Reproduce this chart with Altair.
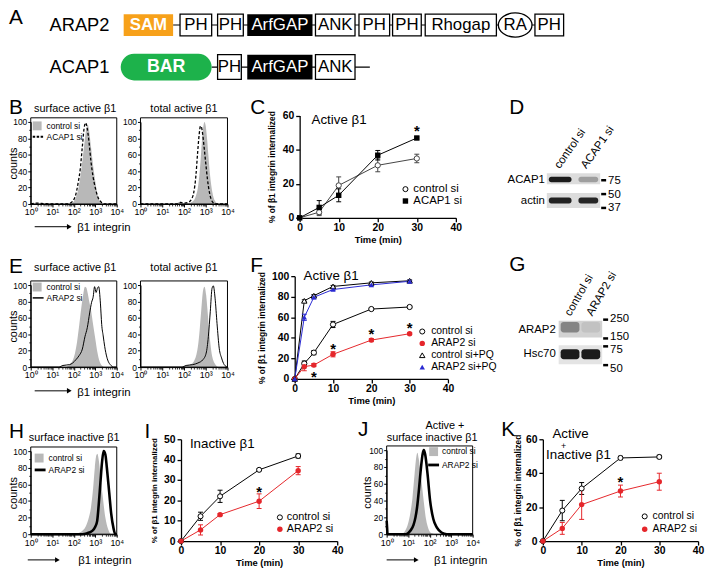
import altair as alt
import pandas as pd

W, H = 705, 562
FONT = "Liberation Sans"
RED = "#e5262b"
BLUE = "#2a2ad2"
GRAY = "#b8b8b8"
ORANGE = "#f7a11a"
GREEN = "#1db24b"


def P(v):
    return v - 8


# ============================ DATA ============================
# A: domain architecture
ARAP2_DOMAINS = ["SAM", "PH", "PH", "ArfGAP", "ANK", "PH", "PH", "Rhogap", "RA", "PH"]
ACAP1_DOMAINS = ["BAR", "PH", "ArfGAP", "ANK"]

# flow cytometry histograms: log10(intensity) and counts
B_SURF_CTRL_LX = [0, 1.85, 2.0, 2.1, 2.2, 2.3, 2.4, 2.5, 2.55, 2.6, 2.65, 2.7, 2.8, 2.9, 3.0, 3.1, 3.2, 3.35, 4]
B_SURF_CTRL_Y = [0, 0, 3, 8, 17, 32, 52, 75, 86, 94, 97, 92, 70, 47, 28, 12, 4, 0, 0]
B_SURF_ACAP_LX = [0, 0.3, 0.6, 1.0, 1.7, 1.9, 2.0, 2.1, 2.2, 2.3, 2.4, 2.48, 2.55, 2.62, 2.7, 2.8, 2.9, 3.0, 3.1, 3.25, 3.4, 4]
B_SURF_ACAP_Y = [0, 1, 0.5, 0, 0, 2, 5, 12, 25, 42, 70, 92, 99, 93, 78, 52, 33, 20, 10, 3, 0, 0]
B_TOT_CTRL_LX = [0, 1.6, 1.75, 1.85, 1.95, 2.2, 2.4, 2.55, 2.65, 2.75, 2.82, 2.88, 2.94, 3.0, 3.06, 3.12, 3.2, 3.3, 3.42, 3.6, 4]
B_TOT_CTRL_Y = [0, 0, 2, 3, 1, 1, 3, 10, 22, 48, 75, 92, 100, 95, 80, 60, 35, 15, 4, 0, 0]
B_TOT_ACAP_LX = [0, 1.7, 1.85, 2.0, 2.2, 2.35, 2.45, 2.55, 2.62, 2.7, 2.76, 2.8, 2.86, 2.93, 3.0, 3.08, 3.17, 3.3, 3.45, 4]
B_TOT_ACAP_Y = [0, 0, 2, 1, 2, 6, 14, 35, 60, 85, 95, 94, 85, 68, 50, 30, 14, 3, 0, 0]

E_SURF_CTRL_LX = [0, 1.6, 1.8, 1.95, 2.05, 2.15, 2.25, 2.35, 2.45, 2.52, 2.58, 2.65, 2.72, 2.8, 2.9, 3.0, 3.1, 3.2, 3.3, 3.45, 4]
E_SURF_CTRL_Y = [0, 0, 3, 8, 16, 30, 50, 72, 90, 98, 97, 90, 80, 70, 52, 35, 18, 7, 2, 0, 0]
E_SURF_ARAP_LX = [0, 1.3, 1.5, 1.8, 1.95, 2.1, 2.25, 2.4, 2.52, 2.63, 2.74, 2.83, 2.9, 2.97, 3.04, 3.1, 3.16, 3.24, 3.3, 3.37, 3.44, 3.54, 3.62, 3.7, 3.85, 4]
E_SURF_ARAP_Y = [0, 0, 2, 3, 5, 9, 14, 22, 37, 48, 66, 79, 85, 98, 91, 96, 98, 78, 52, 38, 25, 12, 6, 3, 0, 0]
E_TOT_CTRL_LX = [0, 1.9, 2.1, 2.26, 2.4, 2.49, 2.57, 2.64, 2.72, 2.79, 2.87, 2.94, 3.02, 3.08, 3.14, 3.2, 3.27, 3.35, 3.45, 3.6, 4]
E_TOT_CTRL_Y = [0, 0, 2, 3, 5, 9, 15, 25, 45, 68, 92, 98, 88, 70, 50, 32, 17, 8, 3, 0, 0]
E_TOT_ARAP_LX = [0, 1.9, 2.1, 2.4, 2.64, 2.87, 3.02, 3.12, 3.21, 3.29, 3.35, 3.43, 3.52, 3.62, 3.73, 3.85, 4]
E_TOT_ARAP_Y = [0, 0, 2, 3, 5, 9, 17, 37, 68, 96, 99, 84, 53, 23, 11, 3, 0]

H_CTRL_LX = [0, 2.0, 2.2, 2.4, 2.55, 2.68, 2.8, 2.9, 2.98, 3.05, 3.1, 3.16, 3.24, 3.35, 3.47, 3.6, 3.75, 4]
H_CTRL_Y = [0, 0, 1, 4, 9, 18, 32, 55, 80, 95, 97, 90, 72, 45, 20, 6, 0, 0]
H_ARAP_LX = [0, 2.4, 2.6, 2.86, 3.0, 3.09, 3.16, 3.24, 3.32, 3.39, 3.47, 3.54, 3.65, 3.74, 3.85, 3.93, 4]
H_ARAP_Y = [0, 0, 1, 4, 9, 16, 35, 62, 88, 100, 96, 80, 50, 25, 7, 0, 0]

J_CTRL_LX = [0, 0.6, 0.75, 0.88, 1.0, 1.1, 1.2, 1.3, 1.38, 1.43, 1.49, 1.6, 1.72, 1.83, 1.95, 2.1, 2.3, 4]
J_CTRL_Y = [0, 0, 1, 5, 13, 25, 43, 72, 92, 97, 90, 68, 40, 18, 6, 1, 0, 0]
J_ARAP_LX = [0, 0.02, 0.04, 0.9, 1.1, 1.25, 1.34, 1.42, 1.49, 1.6, 1.67, 1.73, 1.79, 1.9, 2.02, 2.17, 2.33, 2.55, 2.8, 4]
J_ARAP_Y = [16, 8, 0, 0, 4, 11, 20, 33, 50, 80, 95, 100, 95, 72, 40, 18, 8, 2, 0, 0]

HIST_MAJOR_X = [1, 10, 100, 1000, 10000]
HIST_MINOR_X = [m * d for d in (1, 10, 100, 1000) for m in range(2, 10)]
HIST_MAJOR_Y = [0, 20, 40, 60, 80, 100]
HIST_MINOR_Y = [10, 30, 50, 70, 90]

# internalization time courses (% internalized, SEM)
TIME_C = [0, 5, 10, 20, 30]
C_CTRL = [0, 3.3, 19, 30.8, 34.8]
C_CTRL_ERR = [0, 2, 5, 3.8, 2.5]
C_ACAP1 = [0, 6.1, 13.2, 36.7, 46.8]
C_ACAP1_ERR = [0, 4, 3.8, 2.8, 0.6]
C_STAR_T = [30]
C_STAR_V = [53]

TIME_F = [0, 2.5, 5, 10, 20, 30]
F_CTRL = [0, 15, 25.6, 53, 68, 70]
F_CTRL_ERR = [0, 2.5, 2, 3, 0.8, 0.8]
F_ARAP2 = [0, 12, 13.5, 24, 37.8, 44]
F_ARAP2_ERR = [0, 4, 1.5, 2.5, 1.5, 1]
F_CTRL_PQ = [0, 76, 81, 90, 93.5, 95.5]
F_CTRL_PQ_ERR = [0, 1, 1, 1, 0.8, 0.8]
F_ARAP2_PQ = [0, 60, 79.5, 87, 91.5, 95]
F_ARAP2_PQ_ERR = [0, 3, 1.5, 1, 1, 1]
F_STAR_T = [5, 10, 20, 30]
F_STAR_V = [5.5, 33, 47.5, 53.5]

TIME_I = [0, 5, 10, 20, 30]
I_CTRL = [0, 12.2, 22, 35, 41.8]
I_CTRL_ERR = [0, 2, 3, 0.5, 1]
I_ARAP2 = [0, 5.5, 13, 19.6, 34.6]
I_ARAP2_ERR = [0, 2.5, 0.5, 3.6, 2]
I_STAR_T = [20]
I_STAR_V = [26]

TIME_K = [0, 5, 10, 20, 30]
K_CTRL = [0, 18, 31, 49, 49.6]
K_CTRL_ERR = [0, 6, 3.5, 1, 1]
K_ARAP2 = [0, 7.5, 21.5, 29.5, 35]
K_ARAP2_ERR = [0, 3.5, 8.7, 3.5, 5]
K_STAR_T = [20]
K_STAR_V = [37]

# western blots: band intensity [row][lane]
BLOT_D_LANES = ["control si", "ACAP1 si"]
BLOT_D_ROWS = ["ACAP1", "actin"]
BLOT_D_INT = [[0.95, 0.3], [0.92, 0.9]]
BLOT_D_MARKERS = ["75", "50", "37"]
BLOT_G_LANES = ["control si", "ARAP2 si"]
BLOT_G_ROWS = ["ARAP2", "Hsc70"]
BLOT_G_INT = [[0.4, 0.08], [0.95, 0.95]]
BLOT_G_MARKERS = ["250", "150", "75", "50"]

# ============================ LAYOUT (reference px) ============================
ARAP2_BOX = [(125, 175), (182, 214), (220, 246), (250, 316), (319, 359), (363, 394), (397, 426), (430, 502), (504, 538), (541, 570)]
ARAP2_Y = (11, 33)
ACAP1_BOX = [(122, 214), (220, 244), (250, 316), (319, 359)]
ACAP1_Y = (52, 77)

SUP = ("datum.value == 1 ? '10\u2070' : datum.value == 10 ? '10\u00b9' : datum.value == 100 ? '10\u00b2' : "
       "datum.value == 1000 ? '10\u00b3' : '10\u2074'")


# ============================ helpers ============================
def px_rect(rows, stroke=None, sw=1.0, corner=0):
    df = pd.DataFrame({
        "x": [P(r[0]) for r in rows], "y": [P(r[1]) for r in rows],
        "x2": [P(r[2]) for r in rows], "y2": [P(r[3]) for r in rows],
        "f": [r[4] for r in rows], "o": [r[5] for r in rows]})
    mk = {}
    if corner:
        mk["cornerRadius"] = corner
    if stroke:
        mk.update(stroke=stroke, strokeWidth=sw)
    return alt.Chart(df).mark_rect(**mk).encode(
        x=alt.X("x:Q", scale=None), x2=alt.X2("x2"),
        y=alt.Y("y:Q", scale=None), y2=alt.Y2("y2"),
        fill=alt.Fill("f:N", scale=None), opacity=alt.Opacity("o:Q", scale=None))


def px_rule(rows, dash=None):
    df = pd.DataFrame({
        "x": [P(r[0]) for r in rows], "y": [P(r[1]) for r in rows],
        "x2": [P(r[2]) for r in rows], "y2": [P(r[3]) for r in rows],
        "w": [r[4] for r in rows], "c": [r[5] for r in rows]})
    mk = {"strokeCap": "butt"}
    if dash:
        mk["strokeDash"] = dash
    return alt.Chart(df).mark_rule(**mk).encode(
        x=alt.X("x:Q", scale=None), x2=alt.X2("x2"),
        y=alt.Y("y:Q", scale=None), y2=alt.Y2("y2"),
        size=alt.Size("w:Q", scale=None), color=alt.Color("c:N", scale=None))


def px_points(rows, shape, size, color, open_=False, sw=1.0):
    df = pd.DataFrame({"x": [P(r[0]) for r in rows], "y": [P(r[1]) for r in rows]})
    if open_:
        mk = alt.Chart(df).mark_point(shape=shape, size=size, filled=True, fill="white",
                                      stroke=color, strokeWidth=sw, opacity=1)
    else:
        mk = alt.Chart(df).mark_point(shape=shape, size=size, filled=True, color=color,
                                      strokeWidth=0, opacity=1)
    return mk.encode(x=alt.X("x:Q", scale=None), y=alt.Y("y:Q", scale=None))


TEXTS = []


def T(text, x, y, size, align="left", weight="normal", baseline="middle", color="black", angle=0):
    TEXTS.append(dict(txt=text, x=P(x), y=P(y), fs=size, al=align, wt=weight,
                      bl=baseline, col=color, ang=angle))


def text_layers():
    df = pd.DataFrame(TEXTS)
    out = []
    for (al, wt, bl), g in df.groupby(["al", "wt", "bl"]):
        out.append(alt.Chart(g.reset_index(drop=True)).mark_text(
            align=al, fontWeight=wt, baseline=bl, font=FONT).encode(
            x=alt.X("x:Q", scale=None), y=alt.Y("y:Q", scale=None), text="txt:N",
            size=alt.Size("fs:Q", scale=None), angle=alt.Angle("ang:Q", scale=None),
            color=alt.Color("col:N", scale=None)))
    return out


AX_BASE = dict(domainColor="black", tickColor="black", labelColor="black", titleColor="black",
               grid=False, labelOverlap=False, labelFlush=False, labelFont=FONT, titleFont=FONT)


def hist_panel(xr, y0, y100, fill_lx, fill_y, line_lx, line_y, line_w, dash, counts_right=None):
    # every layer repeats the same explicit domain and range, so the independent scales coincide
    xs = alt.Scale(type="log", domain=[1, 10000], range=[P(xr[0]), P(xr[1])], nice=False)
    ys = alt.Scale(domain=[0, 100], range=[P(y0), P(y100)], nice=False, zero=False)
    xax = alt.Axis(orient="bottom", offset=P(y0) - H, values=HIST_MAJOR_X, labelExpr=SUP,
                   title=None, labelFontSize=9, tickSize=3, labelPadding=1, domainWidth=1, tickWidth=1, **AX_BASE)
    yax_kw = dict(orient="left", offset=-P(xr[0]), values=HIST_MAJOR_Y, labelFontSize=8.5,
                  tickSize=3, labelPadding=1, domainWidth=1, tickWidth=1, **AX_BASE)
    if counts_right is not None:
        yax = alt.Axis(title="counts", titleFontSize=11, titleFontWeight="normal", titleAngle=270,
                       titleBaseline="bottom", titleX=counts_right - xr[0], **yax_kw)
    else:
        yax = alt.Axis(title=None, **yax_kw)
    xminor = alt.Axis(orient="bottom", offset=P(y0) - H, values=HIST_MINOR_X, labels=False, domain=False,
                      title=None, tickSize=2, tickWidth=0.8, tickColor="black", grid=False)
    yminor = alt.Axis(orient="left", offset=-P(xr[0]), values=HIST_MINOR_Y, labels=False, domain=False,
                      title=None, tickSize=2, tickWidth=0.8, tickColor="black", grid=False)
    fdf = pd.DataFrame({"x": [10 ** v for v in fill_lx], "y": fill_y})
    ldf = pd.DataFrame({"x": [10 ** v for v in line_lx], "y": line_y, "i": list(range(len(line_y)))})
    area = alt.Chart(fdf).mark_area(color=GRAY, opacity=1, interpolate="monotone").encode(
        x=alt.X("x:Q", scale=xs, axis=xax), y=alt.Y("y:Q", scale=ys, axis=yax))
    frame = alt.Chart(pd.DataFrame({"x": [1], "x2": [10000], "y": [0], "y2": [105]})).mark_rect(
        filled=False, color="black", strokeWidth=1).encode(
        x=alt.X("x:Q", scale=xs, axis=xminor), x2=alt.X2("x2"),
        y=alt.Y("y:Q", scale=ys, axis=yminor), y2=alt.Y2("y2"))
    lk = dict(color="black", strokeWidth=line_w, interpolate="monotone")
    if dash:
        lk["strokeDash"] = dash
    line = alt.Chart(ldf).mark_line(**lk).encode(
        x=alt.X("x:Q", scale=xs, axis=None), y=alt.Y("y:Q", scale=ys, axis=None), order="i:Q")
    return [area, frame, line]


def line_panel(xr, yr, ydom, yvals, series, star_t, star_v, label_size=10.5, ytitle_size=8.5, ytitle_pad=3):
    xs = alt.Scale(domain=[0, 40], range=[P(xr[0]), P(xr[1])], nice=False, zero=False)
    ys = alt.Scale(domain=ydom, range=[P(yr[0]), P(yr[1])], nice=False, zero=False)
    common = dict(labelFontWeight="bold", titleFontWeight="bold", labelFontSize=label_size,
                  tickSize=4, tickWidth=1.3, domainWidth=1.3, **AX_BASE)
    xax = alt.Axis(orient="bottom", offset=P(yr[0]) - H, values=[0, 10, 20, 30, 40], title="Time (min)",
                   titleFontSize=9.5, labelPadding=1, titlePadding=1, **common)
    yax = alt.Axis(orient="left", offset=-P(xr[0]), values=yvals, title="% of \u03b21 integrin internalized",
                   titleFontSize=ytitle_size, labelPadding=2, titlePadding=ytitle_pad, **common)
    lines, bars, pts = [], [], []
    for i, s in enumerate(series):
        df = pd.DataFrame({"t": s["t"], "m": s["m"], "e": s["e"]})
        X = alt.X("t:Q", scale=xs, axis=xax if i == 0 else None)
        Y = alt.Y("m:Q", scale=ys, axis=yax if i == 0 else None)
        lines.append(alt.Chart(df).mark_line(color=s["color"], strokeWidth=1).encode(x=X, y=Y))
        eb = alt.Chart(df).transform_filter("datum.e > 0").transform_calculate(
            lo="datum.m - datum.e", hi="datum.m + datum.e")
        Xn = alt.X("t:Q", scale=xs, axis=None)
        bars.append(eb.mark_rule(color=s["color"], strokeWidth=1).encode(
            x=Xn, y=alt.Y("lo:Q", scale=ys, axis=None), y2=alt.Y2("hi")))
        for fld in ("lo", "hi"):
            bars.append(eb.mark_tick(orient="horizontal", size=5, thickness=1, color=s["color"], opacity=1).encode(
                x=Xn, y=alt.Y(fld + ":Q", scale=ys, axis=None)))
        if s["open"]:
            pm = alt.Chart(df).mark_point(shape=s["shape"], size=s["size"], filled=True, fill="white",
                                          stroke=s["color"], strokeWidth=1, opacity=1)
        else:
            pm = alt.Chart(df).mark_point(shape=s["shape"], size=s["size"], filled=True,
                                          color=s["color"], strokeWidth=0, opacity=1)
        pts.append(pm.encode(x=Xn, y=alt.Y("m:Q", scale=ys, axis=None)))
    sdf = pd.DataFrame({"t": star_t, "v": star_v})
    stars = alt.Chart(sdf).mark_text(text="*", fontSize=15, fontWeight="bold", font=FONT, dy=4,
                                     color="black").encode(
        x=alt.X("t:Q", scale=xs, axis=None), y=alt.Y("v:Q", scale=ys, axis=None))
    return lines + bars + pts + [stars]


def S(t, m, e, color, shape, open_, size):
    return dict(t=t, m=m, e=e, color=color, shape=shape, open=open_, size=size)


layers = []

# ============================ A: domain diagrams ============================
layers.append(px_rule([(175, 22, 541, 22, 1.2, "black"), (214, 64.5, 374, 64.5, 1.2, "black")]))
plain, filled_boxes = [], []
for name, (a, b) in zip(ARAP2_DOMAINS, ARAP2_BOX):
    cx = (a + b) / 2
    if name == "SAM":
        filled_boxes.append((a, ARAP2_Y[0], b, ARAP2_Y[1], ORANGE, 1))
        T(name, cx, 22.5, 17, "center", "bold", color="white")
    elif name == "ArfGAP":
        filled_boxes.append((a, ARAP2_Y[0], b, ARAP2_Y[1], "black", 1))
        T(name, cx, 22.5, 17, "center", color="white")
    elif name == "RA":
        T(name, cx, 22.5, 17, "center")
    else:
        plain.append((a, ARAP2_Y[0], b, ARAP2_Y[1], "white", 1))
        T(name, cx, 22.5, 17, "center")
bar_rows = []
for name, (a, b) in zip(ACAP1_DOMAINS, ACAP1_BOX):
    cx = (a + b) / 2
    if name == "BAR":
        bar_rows.append((a, ACAP1_Y[0] - 1, b, ACAP1_Y[1] + 1, GREEN, 1))
        T(name, cx, 65, 18, "center", "bold", color="white")
    elif name == "ArfGAP":
        filled_boxes.append((a, ACAP1_Y[0], b, ACAP1_Y[1], "black", 1))
        T(name, cx, 65, 17, "center", color="white")
    else:
        plain.append((a, ACAP1_Y[0], b, ACAP1_Y[1], "white", 1))
        T(name, cx, 65, 17, "center")
layers.append(px_rect(plain, stroke="black", sw=1.3))
layers.append(px_rect(filled_boxes))
layers.append(px_rect(bar_rows, corner=14))
ra_x = sum(ARAP2_BOX[ARAP2_DOMAINS.index("RA")]) / 2
layers.append(alt.Chart(pd.DataFrame({"x": [P(ra_x)], "y": [P(22)]})).mark_point(
    shape="M -1 0 A 1 0.72 0 1 1 1 0 A 1 0.72 0 1 1 -1 0 Z", size=1156, filled=True, fill="white",
    stroke="black", strokeWidth=1.3, opacity=1).encode(x=alt.X("x:Q", scale=None), y=alt.Y("y:Q", scale=None)))
T("ARAP2", 50, 22.5, 18.5)
T("ACAP1", 50, 65, 18.5)

# ============================ histograms ============================
layers += hist_panel((31, 118), 203, 120, B_SURF_CTRL_LX, B_SURF_CTRL_Y, B_SURF_ACAP_LX, B_SURF_ACAP_Y, 1.3, [3, 2], 19)
layers += hist_panel((142, 230), 203, 120, B_TOT_CTRL_LX, B_TOT_CTRL_Y, B_TOT_ACAP_LX, B_TOT_ACAP_Y, 1.3, [3, 2])
layers += hist_panel((31, 118), 368, 285, E_SURF_CTRL_LX, E_SURF_CTRL_Y, E_SURF_ARAP_LX, E_SURF_ARAP_Y, 1.0, None, 19)
layers += hist_panel((142, 230), 368, 285, E_TOT_CTRL_LX, E_TOT_CTRL_Y, E_TOT_ARAP_LX, E_TOT_ARAP_Y, 1.0, None)
layers += hist_panel((31, 118), 537, 453, H_CTRL_LX, H_CTRL_Y, H_ARAP_LX, H_ARAP_Y, 2.6, None, 19)
layers += hist_panel((391, 478), 537, 452, J_CTRL_LX, J_CTRL_Y, J_ARAP_LX, J_ARAP_Y, 2.6, None, 377)

# hist legends & arrows
layers.append(px_rect([(33, 119.5, 42, 128.5, GRAY, 1), (33, 282.5, 42, 291.5, GRAY, 1),
                       (35, 455.5, 44, 464.5, GRAY, 1), (434, 449, 443, 458, GRAY, 1)]))
layers.append(px_rule([(33, 135, 44, 135, 1.8, "black")], dash=[2.5, 1.5]))
layers.append(px_rule([(33, 298, 44, 298, 1.5, "black"), (35, 472, 46, 472, 2.8, "black"),
                       (433, 467, 444, 467, 2.8, "black"),
                       (35, 226, 68, 226, 1, "black"), (35, 392, 68, 392, 1, "black"),
                       (28, 563, 56, 563, 1, "black"), (391, 563, 419, 563, 1, "black")]))
layers.append(px_points([(70, 226), (70, 392), (58, 563), (421, 563)], "triangle-right", 30, "black"))
for y, a, b in [(124, "control si", "ACAP1 si"), (287, "control si", "ARAP2 si")]:
    T(a, 47, y, 8.5)
    T(b, 47, y + 11, 8.5)
T("control si", 49, 460, 8.5)
T("ARAP2 si", 49, 472, 8.5)
T("control si", 447, 453, 8.5)
T("ARAP2 si", 447, 467, 8.5)
for y in (227, 394):
    T("\u03b21 integrin", 78, y, 11.5)
T("\u03b21 integrin", 79, 564, 11.5)
T("\u03b21 integrin", 439, 564, 11.5)
T("surface active \u03b21", 76, 107, 11, "center")
T("total active \u03b21", 186, 107, 11, "center")
T("surface active \u03b21", 76, 268, 11, "center")
T("total active \u03b21", 186, 268, 11, "center")
T("surface inactive \u03b21", 75, 440, 11, "center")
T("Active +", 450, 428, 11, "center")
T("surface inactive \u03b21", 437, 440, 11, "center")

# ============================ line charts ============================
layers += line_panel((303, 461), (217, 113.5), [0, 60], [0, 20, 40, 60], [
    S(TIME_C, C_CTRL, C_CTRL_ERR, "#444444", "circle", True, 28),
    S(TIME_C, C_ACAP1, C_ACAP1_ERR, "black", "square", False, 30)], C_STAR_T, C_STAR_V, ytitle_pad=6)
layers += line_panel((298, 453), (380, 276), [0, 100], [0, 20, 40, 60, 80, 100], [
    S(TIME_F, F_CTRL, F_CTRL_ERR, "black", "circle", True, 28),
    S(TIME_F, F_ARAP2, F_ARAP2_ERR, RED, "circle", False, 30),
    S(TIME_F, F_CTRL_PQ, F_CTRL_PQ_ERR, "black", "triangle-up", True, 30),
    S(TIME_F, F_ARAP2_PQ, F_ARAP2_PQ_ERR, BLUE, "triangle-up", False, 30)], F_STAR_T, F_STAR_V, ytitle_pad=5)
layers += line_panel((183, 341), (544, 441), [0, 50], [0, 10, 20, 30, 40, 50], [
    S(TIME_I, I_CTRL, I_CTRL_ERR, "black", "circle", True, 26),
    S(TIME_I, I_ARAP2, I_ARAP2_ERR, RED, "circle", False, 30)], I_STAR_T, I_STAR_V, ytitle_size=8, ytitle_pad=5)
layers += line_panel((549, 706), (544, 441), [0, 60], [0, 20, 40, 60], [
    S(TIME_K, K_CTRL, K_CTRL_ERR, "black", "circle", True, 26),
    S(TIME_K, K_ARAP2, K_ARAP2_ERR, RED, "circle", False, 30)], K_STAR_T, K_STAR_V)

# line chart legends
layers.append(px_points([(410, 188), (427, 332), (283, 520), (652, 519)], "circle", 26, "black", open_=True))
layers.append(px_points([(410, 200)], "square", 30, "black"))
layers.append(px_points([(427, 344), (283, 532), (652, 532)], "circle", 30, RED))
layers.append(px_points([(427, 356)], "triangle-up", 30, "black", open_=True))
layers.append(px_points([(427, 368)], "triangle-up", 30, BLUE))
T("control si", 418, 188, 11.5)
T("ACAP1 si", 418, 200, 11.5)
for y, lab in zip([332, 344, 356, 368], ["control si", "ARAP2 si", "control si+PQ", "ARAP2 si+PQ"]):
    T(lab, 436, y, 10.5)
T("control si", 290, 520, 11)
T("ARAP2 si", 290, 532, 11)
T("control si", 660, 519, 10.5)
T("ARAP2 si", 660, 532, 10.5)
T("Active \u03b21", 315, 118, 13.5)
T("Active \u03b21", 307, 276, 13.5)
T("Inactive \u03b21", 192, 446, 13.5)
T("Active", 577, 436, 13.5, "center")
T("+", 570, 448, 9, "center")
T("Inactive \u03b21", 585, 457, 13.5, "center")

# ============================ western blots ============================
D_BOX_Y = [(172, 183), (192, 207)]
D_BAND_Y = [(175.5, 181), (196.5, 202.5)]
D_LANE_X = [(555, 578), (585, 605)]
layers.append(px_rect([(553, a, 607, b, "#dcdcdc", 1) for a, b in D_BOX_Y]))
layers.append(px_rect([(D_LANE_X[j][0], D_BAND_Y[i][0], D_LANE_X[j][1], D_BAND_Y[i][1], "#111111",
                        BLOT_D_INT[i][j]) for i in range(2) for j in range(2)], corner=2.5))
D_MARK_Y = [179, 193, 207]
layers.append(px_rule([(608, y, 613, y, 2.5, "black") for y in D_MARK_Y]))
for lab, y in zip(BLOT_D_MARKERS, D_MARK_Y):
    T(lab, 615, y + 0.5, 11.5)
for lab, y in zip(BLOT_D_ROWS, [179, 200]):
    T(lab, 551, y, 11.5, "right")
for lab, x in zip(BLOT_D_LANES, [566, 593]):
    T(lab, x, 168, 11.5, "left", baseline="alphabetic", angle=305)

G_BOX_Y = [(321, 338), (346, 365)]
G_BAND_Y = [(322.5, 333), (350, 360)]
G_LANE_X = [(567, 586), (588, 607)]
layers.append(px_rect([(565, G_BOX_Y[0][0], 609, G_BOX_Y[0][1], "#d2d2d2", 1),
                       (565, G_BOX_Y[1][0], 609, G_BOX_Y[1][1], "#e4e4e4", 1)]))
layers.append(px_rect([(G_LANE_X[j][0], G_BAND_Y[i][0], G_LANE_X[j][1], G_BAND_Y[i][1], "#111111",
                        BLOT_G_INT[i][j]) for i in range(2) for j in range(2)], corner=3))
G_MARK_Y = [320, 339, 347, 366]
layers.append(px_rule([(610, y, 615, y, 2.5, "black") for y in G_MARK_Y]))
for lab, y in zip(BLOT_G_MARKERS, [319, 338, 351, 370]):
    T(lab, 617, y, 11.5)
for lab, y in zip(BLOT_G_ROWS, [330, 355]):
    T(lab, 562, y, 11.5, "right")
for lab, x in zip(BLOT_G_LANES, [577, 599]):
    T(lab, x, 317, 11.5, "left", baseline="alphabetic", angle=300)

# ============================ panel letters ============================
for lab, x, y in [("A", 9, 21), ("B", 9, 112), ("C", 253, 112), ("D", 515, 112),
                  ("E", 9, 273), ("F", 253, 272), ("G", 515, 271),
                  ("H", 9, 440), ("I", 146, 440), ("J", 362, 438), ("K", 507, 438)]:
    T(lab, x, y, 21, "left", baseline="alphabetic")

layers.extend(text_layers())

chart = alt.layer(*layers).resolve_scale(x="independent", y="independent").properties(
    width=W, height=H, padding=0, autosize=alt.AutoSizeParams(type="none")
).configure(font=FONT).configure_view(strokeWidth=0)

chart.save("out.html", embed_options={"renderer": "svg", "actions": False})
